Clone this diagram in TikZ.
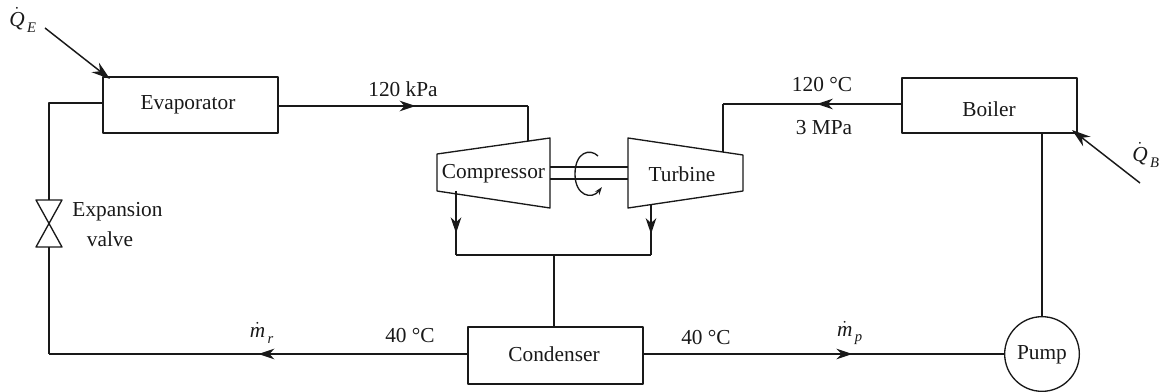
\documentclass[tikz,border=0pt]{standalone}
\usepackage{fontspec}
\setmainfont{Liberation Serif}
\usetikzlibrary{arrows.meta,decorations.markings}
\newcommand{\flowvar}[2]{$\dot{\hbox{\itshape #1}}_{\,\lower 1.5pt\hbox{\fontsize{11}{11}\selectfont\itshape #2}}$}
\tikzset{
  x=0.75pt,y=-0.75pt,
  line/.style={draw=black!90,line width=1pt,line join=round},
  flow/.style={line,postaction={decorate},decoration={markings,mark=at position #1 with {\arrow{Stealth[length=12pt,width=8pt]}}}},
  flow/.default=0.5,
  unit/.style={line,inner sep=0pt},
  lbl/.style={inner sep=0pt,font=\fontsize{16}{18}\selectfont,text=black!90},
  heat/.style={line,line width=1.1pt,-{Stealth[length=14pt,width=9pt]}},
}
\begin{document}
\begin{tikzpicture}
\useasboundingbox (0,0) rectangle (1160,392);
% boxes
\node[unit,minimum width=131.25pt,minimum height=42pt] (evap) at (190.5,105) {};
\node[lbl] (evaptext) at (188,105) {Evaporator};
\node[unit,minimum width=131.25pt,minimum height=41.25pt] (boil) at (989.5,105.5) {};
\node[lbl] (boiltext) at (989,109) {Boiler};
\node[unit,minimum width=131.25pt,minimum height=42.75pt] (cond) at (555.5,355.5) {};
\node[lbl] (condtext) at (554,354) {Condenser};
\node[unit,circle,minimum size=56pt] (pump) at (1042,354) {};
\node[lbl] (pumptext) at (1042,355) {Pump};
% compressor and turbine
\draw[line] (437,154) -- (550,138) -- (550,208) -- (437,191) -- cycle;
\node[lbl] (comp) at (493.5,174) {Compressor};
\draw[line] (628,138) -- (743,155) -- (743,191) -- (628,208) -- cycle;
\node[lbl] (turb) at (682,174) {Turbine};
% shaft
\draw[line] (550,167) -- (628,167);
\draw[line] (550,179) -- (628,179);
\draw[line,-{Stealth[length=6pt,width=4pt]}] (598,156) .. controls (590,148) and (575,152) .. (575,174) .. controls (575,196) and (592,200) .. (602,187);
% valve
\coordinate (vt) at (49,200);
\coordinate (vb) at (49,247);
\draw[line] (36,200) -- (62,200) -- (36,247) -- (62,247) -- cycle;
\node[lbl] (exp1) at (117.5,212) {Expansion};
\node[lbl] (exp2) at (110,239) {valve};
% pipes
\coordinate (evl) at (103,103);
\coordinate (cw) at (468,354);
\coordinate (ce2) at (643,354);
\coordinate (bc) at (49,354);
\draw[line] (evl) -| (vt);
\draw[line] (vb) -- (bc);
\draw[flow=0.5] (cw) -- (bc);
\draw[flow=0.58] (ce2) -- (pump.west);
\coordinate (ce) at (278,106);
\coordinate (ci) at (528,106);
\draw[flow=0.55] (ce) -- (ci);
\draw[line] (ci) -- (528,141);
\coordinate (bl) at (902,104);
\coordinate (ti) at (723,104);
\draw[flow=0.475] (bl) -- (ti);
\draw[line] (ti) -- (723,152);
\coordinate (bb) at (1042,133);
\draw[line] (bb) -- (pump.north);
% exhausts
\coordinate (j1) at (456,255);
\coordinate (j2) at (651,255);
\coordinate (j3) at (554,255);
\draw[flow=0.66] (456,191) -- (j1);
\draw[flow=0.58] (651,205) -- (j2);
\draw[line] (j1) -- (j2);
\draw[line] (j3) -- (j3 |- cond.north);
% heat
\draw[heat] (45,28) -- (110,79);
\draw[heat] (1140,183) -- (1072,130);
% labels
\node[lbl] (l1) at (403,89) {120 kPa};
\node[lbl] (l2) at (822,85) {120 °C};
\node[lbl] (l3) at (824,128) {3 MPa};
\node[lbl] (l4) at (410,336) {40 °C};
\node[lbl] (l5) at (706,338) {40 °C};
\node[lbl] (l6) at (262,333) {\flowvar{m}{r}};
\node[lbl] (l7) at (850,333) {\flowvar{m}{p}};
\node[lbl] (l8) at (23,20) {\flowvar{Q}{E}};
\node[lbl] (l9) at (1146,155) {\flowvar{Q}{B}};
\end{tikzpicture}
\end{document}
